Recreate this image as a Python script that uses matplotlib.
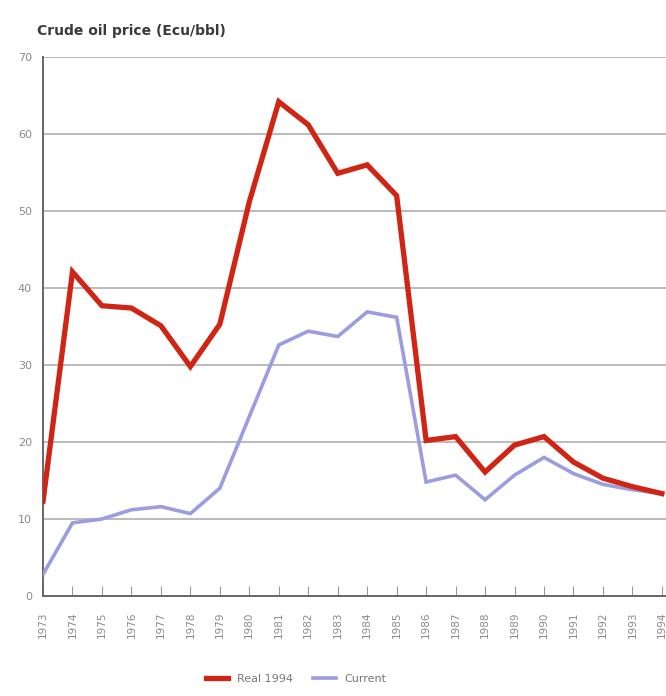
import matplotlib
matplotlib.use("Agg")
import matplotlib.pyplot as plt

years = list(range(1973, 1995))
real_1994 = [12.3, 42.1, 37.7, 37.4, 35.1, 29.8, 35.3, 51.2, 64.2, 61.2, 54.9,
             56.0, 52.0, 20.2, 20.7, 16.1, 19.6, 20.7, 17.4, 15.3, 14.2, 13.3]
current = [2.8, 9.5, 10.0, 11.2, 11.6, 10.7, 14.0, 23.3, 32.6, 34.4, 33.7,
           36.9, 36.2, 14.8, 15.7, 12.5, 15.7, 18.0, 15.9, 14.5, 13.8, 13.3]
yticks = [0, 10, 20, 30, 40, 50, 60, 70]

fig = plt.figure(figsize=(6.66, 6.96), dpi=100)
ax = fig.add_axes([0.0646, 0.1437, 0.9354, 0.7743])

for y in yticks[1:]:
    ax.axhline(y, color="#b5b5b5", lw=1.3, zorder=1)

l2, = ax.plot(years, current, color="#9c9ce0", lw=2.6, zorder=3, label="Current",
              solid_joinstyle="miter")
l1, = ax.plot(years, real_1994, color="#d02515", lw=3.8, zorder=4, label="Real 1994",
              solid_joinstyle="miter")

ax.set_xlim(1973, 1994.14)
ax.set_ylim(0, 70)
ax.set_yticks(yticks)
ax.set_yticklabels([str(v) for v in yticks], color="#8a8a8a", fontsize=8)
ax.set_xticks(years)
ax.set_xticklabels([str(y) for y in years], rotation=90, color="#8a8a8a", fontsize=7.5)
ax.tick_params(axis="x", direction="in", length=7, color="#999999", pad=11)
ax.tick_params(axis="y", length=0, pad=8)

for s in ["top", "right"]:
    ax.spines[s].set_visible(False)
ax.spines["left"].set_color("#666666")
ax.spines["left"].set_linewidth(1.4)
ax.spines["bottom"].set_color("#666666")
ax.spines["bottom"].set_linewidth(1.4)

fig.text(0.056, 0.956, "Crude oil price (Ecu/bbl)", fontsize=10, fontweight="bold",
         color="#3a3a3a", ha="left", va="center")

fig.legend(handles=[l1, l2], labels=["Real 1994", "Current"], loc="center",
           bbox_to_anchor=(0.445, 0.024), ncol=2, frameon=False, fontsize=8,
           handlelength=2.0, handletextpad=0.8, columnspacing=1.8, labelcolor="#777777")

fig.savefig("out.png", dpi=100)
